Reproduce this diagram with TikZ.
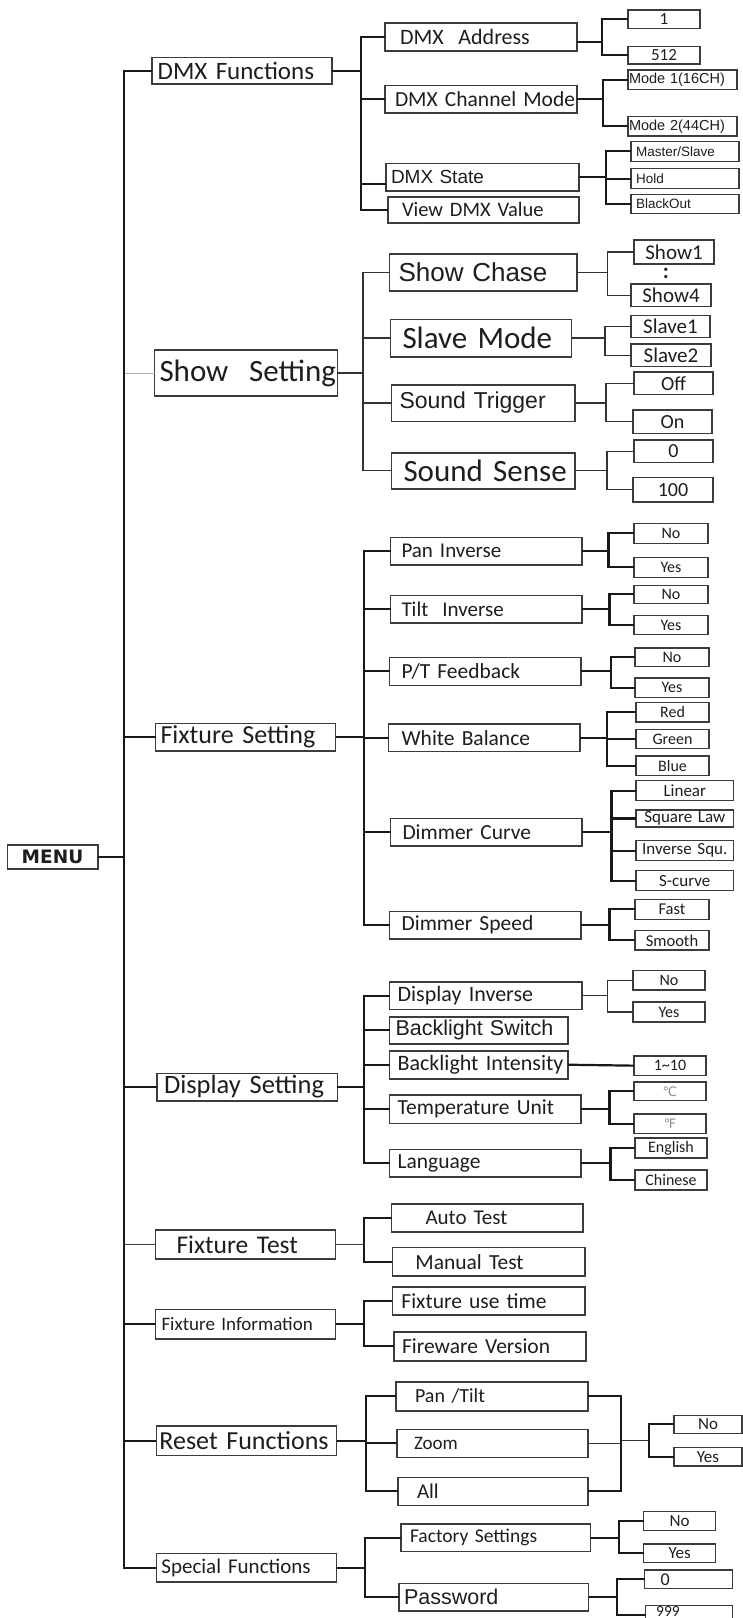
\documentclass[tikz,border=0pt]{standalone}
\usepackage{fontspec}
\setmainfont{Carlito}
\newfontfamily\arialf{Liberation Sans}
\newfontfamily\djf{DejaVu Sans}
\newcommand\fz[1]{\fontsize{#1}{#1}\selectfont}
\definecolor{boxc}{HTML}{3C3C3C}
\definecolor{txtc}{HTML}{1E1E1E}
\tikzset{
  box/.style={draw=boxc, line width=1.6pt, fill=white, inner ysep=0pt, outer sep=0pt, align=left, text=txtc},
  sm/.style={line width=1.3pt, align=center},
  conn/.style={draw=black!90, line width=2.2pt},
  mid/.style={draw=black!80, line width=1.4pt},
  thinc/.style={draw=black!75, line width=1.3pt},
  faint/.style={draw=black!30, line width=1pt},
}
\newcommand\bx[8][]{%
  \pgfmathsetmacro\bxh{#6-#4}%
  \pgfmathsetmacro\bxt{#5-#3-2*#7}%
  \node[box,anchor=north west,minimum height=\bxh pt,inner xsep=#7pt,text width=\bxt pt,#1] (#2) at (#3,#4) {\mbox{#8}};}
\begin{document}
\begin{tikzpicture}[x=1pt,y=-1pt]
\path[use as bounding box, fill=white] (0,0) rectangle (743,1618);

% ---------- level 1 ----------
\bx[font=\fz{25}]{dmxf}{151.7}{57.3}{331.8}{84}{6}{DMX Functions}
\bx[font=\fz{31}]{show}{154.5}{350}{337.4}{396}{5}{Show\ \ Setting}
\bx[font=\fz{26}]{fixs}{155.5}{723.3}{335.5}{750.7}{5}{Fixture Setting}
\bx[font=\djf\bfseries\fz{18.5},align=center]{menu}{7.3}{844.7}{97.7}{868.7}{0}{MENU}
\bx[font=\fz{26.5}]{disp}{157}{1073.3}{337.4}{1100.7}{7}{Display Setting}
\bx[font=\fz{25.5}]{ftest}{155.5}{1230}{335.5}{1258.7}{21}{Fixture Test}
\bx[font=\fz{19}]{finfo}{155.5}{1309.3}{335.5}{1338.7}{6}{Fixture Information}
\bx[font=\fz{26}]{reset}{156.4}{1426}{336.5}{1455.3}{3}{Reset Functions}
\bx[font=\fz{21}]{spec}{156.4}{1553.3}{336.5}{1582}{5}{Special Functions}

% ---------- DMX ----------
\bx[font=\fz{22}]{dadr}{385}{22.7}{577}{50.7}{15}{DMX\ \ Address}
\bx[font=\fz{21.5}]{dcm}{385}{85.3}{577}{112.7}{10}{DMX Channel Mode}
\bx[font=\arialf\fz{19}]{dst}{386}{163.3}{579}{190.7}{5}{DMX State}
\bx[font=\fz{20.5}]{dvv}{388}{196.7}{579}{222.7}{14}{View DMX Value}
\bx[sm,font=\fz{17}]{a1}{628}{10}{700}{28.7}{0}{1}
\bx[sm,font=\fz{17}]{a512}{628}{46.7}{700}{64}{0}{512}
\bx[sm,font=\arialf\fz{14.5},align=left]{m1}{628}{70}{737}{89.3}{1}{Mode 1(16CH)}
\bx[sm,font=\arialf\fz{14.5},align=left]{m2}{628}{116.7}{737}{136}{1}{Mode 2(44CH)}
\bx[sm,font=\arialf\fz{13.5},align=left]{ms}{631}{141.3}{739}{161.3}{5}{Master/Slave}
\bx[sm,font=\arialf\fz{13.5},align=left]{ho}{631}{168.7}{739}{188.7}{5}{Hold}
\bx[sm,font=\arialf\fz{13.5},align=left]{bo}{631}{194.7}{739}{213.3}{5}{BlackOut}

% ---------- Show ----------
\bx[font=\arialf\fz{26}]{sch}{389.6}{254}{577}{290.7}{9}{Show Chase}
\bx[font=\fz{31}]{slv}{390.5}{319.3}{571.6}{356.7}{12}{Slave Mode}
\bx[font=\arialf\fz{23}]{str}{391.5}{384.7}{575}{421.3}{8}{Sound Trigger}
\bx[font=\fz{31}]{ssn}{391.5}{452.7}{575}{488.7}{12}{Sound Sense}
\bx[sm,font=\fz{21}]{sh1}{634}{240}{714}{264}{0}{Show1}
\bx[sm,font=\fz{21}]{sh4}{631}{284}{711}{306.7}{0}{Show4}
\node[font=\fz{22}\bfseries,text=txtc,inner sep=0pt] (colon) at (666,273.5) {:};
\bx[sm,font=\fz{21}]{sl1}{631}{315.3}{710}{337.3}{0}{Slave1}
\bx[sm,font=\fz{21}]{sl2}{631}{344}{711}{366.7}{0}{Slave2}
\bx[sm,font=\fz{20}]{off}{634}{372}{713}{394.7}{0}{Off}
\bx[sm,font=\fz{20}]{on}{633}{410}{712}{433.3}{0}{On}
\bx[sm,font=\fz{20}]{s0}{634}{440}{713}{462.7}{0}{0}
\bx[sm,font=\fz{20}]{s100}{633}{477.3}{713}{502}{0}{100}

% ---------- Fixture ----------
\bx[font=\fz{21}]{pan}{390.5}{537.3}{582}{564.7}{11}{Pan Inverse}
\bx[font=\fz{21}]{tilt}{390.5}{595.3}{582}{622.7}{11}{Tilt\ \ Inverse}
\bx[font=\fz{21.5}]{ptf}{389.5}{657.3}{581}{685.3}{12}{P/T Feedback}
\bx[font=\fz{21.5}]{wb}{388.6}{724}{580}{751.3}{13}{White Balance}
\bx[font=\fz{21.5}]{dc}{390.5}{818.3}{582}{846}{12}{Dimmer Curve}
\bx[font=\fz{21.5}]{ds}{389.6}{911.3}{581}{938.7}{12}{Dimmer Speed}
\bx[sm,font=\fz{16}]{pn}{634}{523.3}{708}{543.3}{0}{No}
\bx[sm,font=\fz{16}]{py}{634}{557.3}{708}{577.3}{0}{Yes}
\bx[sm,font=\fz{16}]{tn}{634}{585.3}{708}{603.3}{0}{No}
\bx[sm,font=\fz{16}]{ty}{634}{615.3}{708}{634.7}{0}{Yes}
\bx[sm,font=\fz{16}]{fn}{635}{648}{709}{666.7}{0}{No}
\bx[sm,font=\fz{16}]{fy}{635}{678}{709}{697.3}{0}{Yes}
\bx[sm,font=\fz{16}]{red}{636}{702.7}{709}{722}{0}{Red}
\bx[sm,font=\fz{16}]{grn}{636}{729.3}{709}{748.7}{0}{Green}
\bx[sm,font=\fz{16}]{blu}{636}{756}{709}{775.3}{0}{Blue}
\bx[sm,font=\fz{17}]{lin}{636}{780.7}{733.6}{800.7}{0}{Linear}
\bx[sm,font=\fz{17}]{sql}{636}{810}{733.6}{827}{0}{Square Law}
\bx[sm,font=\fz{17}]{isq}{636}{840.7}{733.6}{860.7}{0}{Inverse Squ.}
\bx[sm,font=\fz{17}]{scv}{636}{870.7}{733.6}{890.7}{0}{S-curve}
\bx[sm,font=\fz{16.5}]{fast}{635}{899.3}{709}{919.3}{0}{Fast}
\bx[sm,font=\fz{16.5}]{smo}{635}{930.7}{709}{950}{0}{Smooth}

% ---------- Display ----------
\bx[font=\fz{22}]{di}{389.6}{982}{582}{1009.3}{8}{Display Inverse}
\bx[font=\arialf\fz{21.5}]{bs}{389.6}{1016.7}{567.8}{1044}{6}{Backlight Switch}
\bx[font=\fz{22}]{bi}{389.6}{1050.7}{567.8}{1078.7}{8}{Backlight Intensity}
\bx[font=\fz{21.5}]{tu}{389.6}{1094.7}{581}{1123.3}{8}{Temperature Unit}
\bx[font=\fz{21.5}]{lang}{389.6}{1149.3}{581}{1176.7}{8}{Language}
\bx[sm,font=\fz{16}]{dn}{633}{970.7}{705}{990}{0}{No}
\bx[sm,font=\fz{16}]{dy}{633}{1002}{705}{1022}{0}{Yes}
\bx[sm,font=\fz{16}]{i110}{634}{1056}{706}{1075.3}{0}{1\textasciitilde10}
\bx[sm,font=\djf\fz{13},text=black!45]{degc}{634}{1082}{706}{1100.7}{0}{℃}
\bx[sm,font=\djf\fz{13},text=black!45]{degf}{634}{1114}{706}{1133.3}{0}{℉}
\bx[sm,font=\fz{16}]{eng}{635}{1138}{707}{1158}{0}{English}
\bx[sm,font=\fz{16}]{chn}{635}{1170}{707}{1190}{0}{Chinese}

% ---------- Test / Info ----------
\bx[font=\fz{21}]{at}{391.5}{1204}{583}{1232}{34}{Auto Test}
\bx[font=\fz{21.5}]{mt}{392.4}{1247.3}{585}{1276}{23}{Manual Test}
\bx[font=\fz{21.5}]{fut}{392.4}{1286.7}{585}{1314.7}{9}{Fixture use time}
\bx[font=\fz{21.5}]{fwv}{394}{1332}{585.8}{1360.7}{8}{Fireware Version}

% ---------- Reset ----------
\bx[font=\fz{20}]{pt}{396}{1382}{587.7}{1410.7}{19}{Pan /Tilt}
\bx[font=\fz{19}]{zm}{397}{1429.3}{587.7}{1457.3}{17}{Zoom}
\bx[font=\fz{21}]{al}{398}{1477.3}{587.7}{1505.3}{19}{All}
\bx[sm,font=\fz{17}]{rno}{674}{1415.3}{742}{1433.3}{0}{No}
\bx[sm,font=\fz{17}]{ryes}{674}{1447.3}{742}{1466}{0}{Yes}

% ---------- Special ----------
\bx[font=\fz{19.5}]{fs}{401}{1524}{590.5}{1551.3}{9}{Factory Settings}
\bx[font=\arialf\fz{21.5}]{pw}{399}{1583.3}{588.6}{1610.7}{5}{Password}
\bx[sm,font=\fz{17}]{fsn}{643.6}{1511.3}{715.6}{1530.7}{0}{No}
\bx[sm,font=\fz{17}]{fsy}{643.6}{1544}{715.6}{1562.7}{0}{Yes}
\bx[sm,font=\fz{18},align=left]{p0}{644.5}{1570}{732.7}{1588.7}{16}{0}
\bx[sm,align=left]{p999}{645.5}{1605.3}{732.7}{1628}{10}{}
\node[font=\fz{15.5},text=txtc,inner sep=0pt,anchor=base west] (t999) at (656,1616.8) {999};

% ---------- trunk ----------
\coordinate (tr) at (124,856.7);
\draw[faint] (show.west) -- (show.west -| tr);
\draw[thinc] (ftest.west) -- (ftest.west -| tr);
\foreach \c in {dmxf,fixs,disp,finfo,reset,spec}
  \draw[conn] (menu.east) -- ++(26.3,0) |- (\c.west);

% ---------- DMX connectors ----------
\draw[conn] (dmxf.east) -- ++(29.2,0) |- (dadr.west);
\draw[conn] (dmxf.east) -- ++(29.2,0) |- (dcm.west);
\draw[conn] (dmxf.east) -- ++(29.2,0) |- ([yshift=-7pt]dst.west);
\draw[conn] (dmxf.east) -- ++(29.2,0) |- (dvv.west);
\foreach \c in {a1,a512} \draw[conn] ([yshift=-5pt]dadr.east) -- ++(25,0) |- (\c.west);
\foreach \c in {m1,m2} \draw[conn] (dcm.east) -- ++(26,0) |- (\c.west);
\foreach \c in {ms,ho,bo} \draw[conn] (dst.east) -- ++(27,0) |- (\c.west);

% ---------- Show connectors ----------
\foreach \c in {sch,slv,str,ssn} \draw[mid] (show.east) -- ++(25.6,0) |- (\c.west);
\foreach \c in {sh1,sh4} \draw[mid] (sch.east) -- ++(30.6,0) |- (\c.west);
\foreach \c in {sl1,sl2} \draw[mid] (slv.east) -- ++(33.4,0) |- (\c.west);
\foreach \c in {off,on} \draw[mid] (str.east) -- ++(31,0) |- (\c.west);
\foreach \c in {s0,s100} \draw[mid] (ssn.east) -- ++(32,0) |- (\c.west);

% ---------- Fixture connectors ----------
\foreach \c in {pan,tilt,ptf,wb,dc,ds} \draw[conn] (fixs.east) -- ++(28.5,0) |- (\c.west);
\foreach \c in {pn,py} \draw[conn] (pan.east) -- ++(26.5,0) |- (\c.west);
\foreach \c in {tn,ty} \draw[conn] (tilt.east) -- ++(27.5,0) |- (\c.west);
\foreach \c in {fn,fy} \draw[conn] (ptf.east) -- ++(30,0) |- (\c.west);
\foreach \c in {red,grn,blu} \draw[conn] (wb.east) -- ++(26.6,0) |- (\c.west);
\foreach \c in {lin,sql,isq,scv} \draw[conn] (dc.east) -- ++(29.4,0) |- (\c.west);
\foreach \c in {fast,smo} \draw[conn] (ds.east) -- ++(28.5,0) |- (\c.west);

% ---------- Display connectors ----------
\foreach \c in {di,bs,bi,tu,lang} \draw[conn] (disp.east) -- ++(26.6,0) |- (\c.west);
\foreach \c in {dn,dy} \draw[mid] (di.east) -- ++(25.6,0) |- (\c.west);
\draw[conn] (bi.east) -- (i110.west);
\foreach \c in {degc,degf} \draw[conn] (tu.east) -- ++(28.5,0) |- (\c.west);
\foreach \c in {eng,chn} \draw[conn] (lang.east) -- ++(29.4,0) |- (\c.west);

% ---------- Test / Info connectors ----------
\draw[thinc] (ftest.east) -- ++(28.5,0);
\foreach \c in {at,mt} \draw[conn] ([xshift=28.5pt]ftest.east) |- (\c.west);
\foreach \c in {fut,fwv} \draw[conn] (finfo.east) -- ++(28.5,0) |- (\c.west);

% ---------- Reset connectors ----------
\coordinate (rm) at (620.9,1440.7);
\coordinate (rm2) at (649.3,1440.7);
\foreach \c in {pt,zm,al} \draw[conn] (reset.east) -- ++(29.4,0) |- (\c.west);
\draw[conn] (pt.east) -| (rm);
\draw[mid] (zm.east) -| (rm);
\draw[conn] (al.east) -| (rm);
\draw[mid] (rm) -- (rm2);
\draw[conn] (rm2) |- (rno.west);
\draw[conn] (rm2) |- (ryes.west);

% ---------- Special connectors ----------
\foreach \c in {fs,pw} \draw[conn] (spec.east) -- ++(28.5,0) |- (\c.west);
\foreach \c in {fsn,fsy} \draw[conn] (fs.east) -- ++(28.5,0) |- (\c.west);
\draw[conn] (pw.east) -- ++(28.4,0) |- (p0.west);
\draw[conn] (pw.east) -- ++(28.4,0) |- ([yshift=2pt]p999.west);
\end{tikzpicture}
\end{document}
